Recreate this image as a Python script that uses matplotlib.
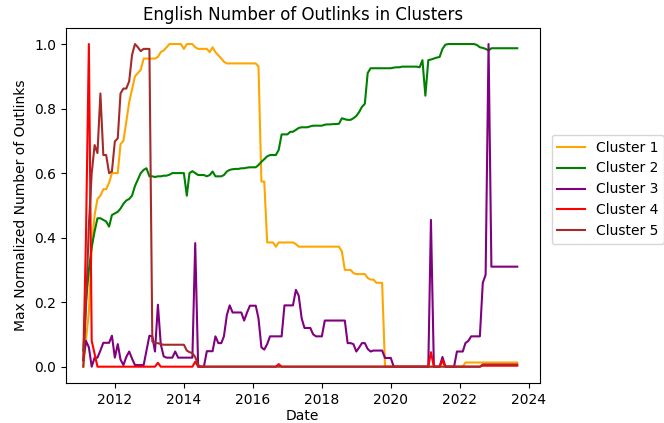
import numpy as np
import pandas as pd
import matplotlib
matplotlib.use('Agg')
import matplotlib.pyplot as plt
import matplotlib.dates as mdates

# monthly values, Feb 2011 .. Sep 2023
dates = pd.date_range('2011-02-01', periods=152, freq='MS')

cluster1 = [0.0, 0.08, 0.17, 0.37, 0.47, 0.52, 0.53, 0.55, 0.55, 0.57, 0.6,
            0.6, 0.6, 0.69, 0.7, 0.76, 0.82, 0.86, 0.9, 0.91, 0.92, 0.955, 0.955,
            0.955, 0.955, 0.955, 0.96, 0.975, 0.98, 0.99, 1.0, 1.0, 1.0, 1.0, 1.0,
            0.985, 1.0, 1.0, 1.0, 0.99, 0.985, 0.985, 0.985, 0.985, 0.975, 0.99, 0.975,
            0.965, 0.955, 0.945, 0.94, 0.94, 0.94, 0.94, 0.94, 0.94, 0.94, 0.94, 0.94,
            0.94, 0.94, 0.93, 0.574, 0.574, 0.385, 0.385, 0.385, 0.372, 0.385, 0.385, 0.385,
            0.385, 0.385, 0.385, 0.38, 0.372, 0.372, 0.372, 0.372, 0.372, 0.372, 0.372, 0.372,
            0.372, 0.372, 0.372, 0.372, 0.372, 0.372, 0.372, 0.357, 0.30, 0.30, 0.30, 0.29,
            0.287, 0.287, 0.287, 0.287, 0.275, 0.27, 0.27, 0.26, 0.26, 0.26, 0.0, 0.0,
            0, 0, 0, 0, 0, 0, 0, 0, 0, 0, 0, 0,
            0, 0, 0, 0, 0, 0, 0.015, 0, 0, 0, 0, 0,
            0, 0, 0.013, 0.013, 0.013, 0.013, 0.013, 0.013, 0.013, 0.013, 0.013, 0.013,
            0.013, 0.013, 0.013, 0.013, 0.013, 0.013, 0.013, 0.013, 0.013]

cluster2 = [0.05, 0.2, 0.3, 0.37, 0.42, 0.46, 0.46, 0.455, 0.45, 0.434, 0.47,
            0.475, 0.48, 0.49, 0.505, 0.515, 0.52, 0.53, 0.56, 0.58, 0.6, 0.61, 0.615,
            0.59, 0.59, 0.588, 0.59, 0.59, 0.592, 0.592, 0.595, 0.6, 0.6, 0.6, 0.6,
            0.6, 0.53, 0.6, 0.606, 0.6, 0.594, 0.594, 0.594, 0.59, 0.594, 0.605, 0.59,
            0.59, 0.59, 0.594, 0.605, 0.61, 0.612, 0.613, 0.613, 0.615, 0.615, 0.617, 0.618,
            0.618, 0.618, 0.625, 0.635, 0.643, 0.652, 0.656, 0.656, 0.656, 0.672, 0.72, 0.72,
            0.72, 0.728, 0.728, 0.734, 0.74, 0.742, 0.742, 0.742, 0.745, 0.747, 0.747, 0.747,
            0.747, 0.75, 0.751, 0.751, 0.752, 0.752, 0.753, 0.77, 0.767, 0.765, 0.765, 0.77,
            0.777, 0.79, 0.805, 0.815, 0.91, 0.925, 0.925, 0.925, 0.925, 0.925, 0.925, 0.925,
            0.925, 0.927, 0.928, 0.928, 0.93, 0.93, 0.93, 0.93, 0.93, 0.93, 0.928, 0.95,
            0.84, 0.95, 0.952, 0.955, 0.958, 0.96, 0.985, 0.998, 1.0, 1.0, 1.0, 1.0,
            1.0, 1.0, 1.0, 1.0, 1.0, 1.0, 0.997, 0.99, 0.988, 0.985, 0.98, 0.987,
            0.987, 0.987, 0.987, 0.987, 0.987, 0.987, 0.987, 0.987, 0.987]

cluster3 = [0.02, 0.08, 0.06, 0.0, 0.028, 0.028, 0.05, 0.074, 0.074, 0.074, 0.096,
            0.028, 0.07, 0.022, 0.005, 0.03, 0.047, 0.025, 0.005, 0.005, 0.005, 0.005, 0.05,
            0.096, 0.094, 0.047, 0.192, 0.07, 0.032, 0.028, 0.028, 0.028, 0.047, 0.028, 0.028,
            0.028, 0.028, 0.028, 0.028, 0.383, 0.0, 0.0, 0.0, 0.048, 0.048, 0.048, 0.094,
            0.073, 0.073, 0.094, 0.16, 0.19, 0.168, 0.168, 0.168, 0.168, 0.143, 0.168, 0.189,
            0.189, 0.189, 0.15, 0.06, 0.053, 0.07, 0.094, 0.094, 0.094, 0.094, 0.094, 0.19,
            0.19, 0.19, 0.19, 0.238, 0.22, 0.15, 0.12, 0.12, 0.12, 0.1, 0.094, 0.094,
            0.094, 0.143, 0.143, 0.143, 0.143, 0.143, 0.143, 0.143, 0.143, 0.073, 0.073, 0.07,
            0.047, 0.06, 0.073, 0.073, 0.055, 0.047, 0.05, 0.05, 0.05, 0.05, 0.027, 0.027,
            0.027, 0, 0, 0, 0, 0, 0, 0, 0, 0, 0, 0,
            0, 0, 0.455, 0, 0, 0, 0.03, 0, 0, 0, 0, 0.047,
            0.047, 0.047, 0.073, 0.08, 0.094, 0.094, 0.094, 0.094, 0.26, 0.285, 1.0, 0.31,
            0.31, 0.31, 0.31, 0.31, 0.31, 0.31, 0.31, 0.31, 0.31]

cluster4 = [0.02, 0.4, 1.0, 0.08, 0.04, 0, 0, 0, 0, 0, 0,
            0, 0, 0, 0, 0, 0, 0, 0, 0, 0, 0, 0,
            0, 0, 0, 0.012, 0, 0, 0, 0, 0, 0, 0, 0,
            0, 0, 0, 0, 0.015, 0, 0, 0, 0, 0, 0, 0,
            0, 0, 0, 0, 0, 0, 0, 0, 0, 0, 0, 0,
            0, 0, 0, 0, 0, 0, 0, 0, 0, 0.008, 0, 0,
            0, 0, 0, 0, 0, 0, 0, 0, 0, 0, 0, 0,
            0, 0, 0, 0, 0, 0, 0, 0, 0, 0, 0, 0,
            0, 0, 0, 0, 0, 0, 0, 0, 0, 0, 0, 0,
            0, 0, 0, 0, 0, 0, 0, 0, 0, 0, 0, 0,
            0, 0, 0.045, 0, 0, 0, 0.02, 0, 0, 0, 0, 0,
            0, 0, 0, 0, 0, 0, 0, 0, 0.003, 0.003, 0.003, 0.003,
            0.003, 0.003, 0.003, 0.003, 0.003, 0.003, 0.003, 0.003, 0.003]

cluster5 = [0.0, 0.18, 0.44, 0.6, 0.687, 0.662, 0.847, 0.656, 0.656, 0.6, 0.605,
            0.698, 0.708, 0.847, 0.862, 0.862, 0.885, 0.966, 1.0, 0.99, 0.978, 0.985, 0.985,
            0.985, 0.078, 0.073, 0.073, 0.07, 0.068, 0.068, 0.068, 0.068, 0.068, 0.068, 0.068,
            0.068, 0.05, 0.045, 0.042, 0.03, 0.005, 0, 0, 0, 0, 0, 0,
            0, 0, 0, 0, 0, 0, 0, 0, 0, 0, 0, 0,
            0, 0, 0, 0, 0, 0, 0, 0, 0, 0, 0, 0,
            0, 0, 0, 0, 0, 0, 0, 0, 0, 0, 0, 0,
            0, 0, 0, 0, 0, 0, 0, 0, 0, 0, 0, 0,
            0, 0, 0, 0, 0, 0, 0, 0, 0, 0, 0, 0,
            0, 0, 0, 0, 0, 0, 0, 0, 0, 0, 0, 0,
            0, 0, 0, 0, 0, 0, 0, 0, 0, 0, 0, 0,
            0, 0, 0, 0, 0, 0, 0, 0, 0.007, 0.007, 0.007, 0.007,
            0.007, 0.007, 0.007, 0.007, 0.007, 0.007, 0.007, 0.007, 0.007]

series = [cluster1, cluster2, cluster3, cluster4, cluster5]
labels = ['Cluster 1', 'Cluster 2', 'Cluster 3', 'Cluster 4', 'Cluster 5']
colors = ['orange', 'green', 'purple', 'red', 'brown']

fig = plt.figure(figsize=(6.64, 4.23), dpi=100)
ax = fig.add_subplot(111)
fig.subplots_adjust(left=0.099, right=0.813, top=0.934, bottom=0.095)

for vals, lab, col in zip(series, labels, colors):
    ax.plot(dates, vals, color=col, label=lab)

ax.set_xlim(pd.Timestamp('2010-07-30'), pd.Timestamp('2024-04-27'))
ax.xaxis.set_major_locator(mdates.YearLocator(2))
ax.xaxis.set_major_formatter(mdates.DateFormatter('%Y'))
ax.set_title('English Number of Outlinks in Clusters')
ax.set_xlabel('Date', labelpad=2)
ax.set_ylabel('Max Normalized Number of Outlinks')
ax.legend(loc='center left', bbox_to_anchor=(1.01, 0.545))

plt.savefig('out.png', dpi=100)
